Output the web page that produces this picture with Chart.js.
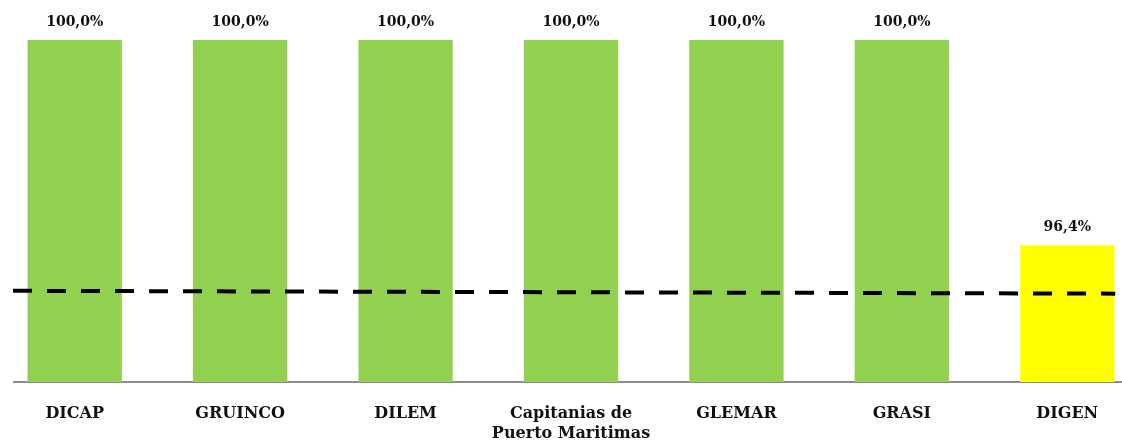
<!DOCTYPE html>
<html>
<head>
<meta charset="utf-8">
<script src="https://cdn.jsdelivr.net/npm/chart.js@4/dist/chart.umd.min.js"></script>
<style>
  html, body { margin: 0; padding: 0; background: #fff; overflow: hidden; }
  #wrap { position: absolute; left: -8px; top: 0; width: 1158px; height: 466px; }
</style>
</head>
<body>
<div id="wrap"><canvas id="myChart"></canvas></div>
<script>
const labels = [
  "DICAP",
  "GRUINCO",
  "DILEM",
  ["Capitanias de", "Puerto Maritimas"],
  "GLEMAR",
  "GRASI",
  "DIGEN",
];
const values = [100, 100, 100, 100, 100, 100, 96.4];
const barColors = ["#92D050", "#92D050", "#92D050", "#92D050", "#92D050", "#92D050", "#FFFF00"];
// meta line, runs a bit past first and last category
const targetLine = [
  { x: -0.373, y: 95.6 },
  { x: 6.29, y: 95.55 },
];

const serif = "'DejaVu Serif', 'Liberation Serif', serif";

const valueLabels = {
  id: "valueLabels",
  afterDatasetsDraw(chart) {
    const ctx = chart.ctx;
    const meta = chart.getDatasetMeta(0);
    ctx.save();
    ctx.font = "bold 14px " + serif;
    ctx.fillStyle = "#111";
    ctx.textAlign = "center";
    ctx.textBaseline = "bottom";
    meta.data.forEach((bar, i) => {
      const txt = values[i].toFixed(1).replace(".", ",") + "%";
      ctx.fillText(txt, bar.x, bar.y - 11);
    });
    ctx.restore();
  },
};

const axisLine = {
  id: "axisLine",
  beforeDatasetsDraw(chart) {
    const ctx = chart.ctx;
    const x0 = chart.scales.x2.getPixelForValue(targetLine[0].x);
    const y = chart.scales.y.getPixelForValue(94);
    ctx.save();
    ctx.strokeStyle = "#8c8c8c";
    ctx.lineWidth = 2;
    ctx.beginPath();
    ctx.moveTo(x0, y);
    ctx.lineTo(chart.chartArea.right, y);
    ctx.stroke();
    ctx.restore();
  },
};

const ctx = document.getElementById("myChart").getContext("2d");
new Chart(ctx, {
  type: "bar",
  data: {
    labels: labels,
    datasets: [
      {
        type: "bar",
        data: values,
        xAxisID: "x",
        backgroundColor: barColors,
        borderWidth: 0,
        grouped: false,
        categoryPercentage: 1,
        barPercentage: 0.57,
        order: 1,
      },
      {
        type: "line",
        data: targetLine,
        xAxisID: "x2",
        borderColor: "#000",
        borderWidth: 4,
        borderDash: [19, 15],
        pointRadius: 0,
        fill: false,
        order: 0,
      },
    ],
  },
  options: {
    responsive: true,
    maintainAspectRatio: false,
    animation: false,
    layout: { padding: { top: 40, bottom: 0, left: 0, right: 0 } },
    scales: {
      x: {
        type: "category",
        grid: { display: false, drawTicks: false },
        border: { display: false },
        ticks: {
          autoSkip: false,
          maxRotation: 0,
          padding: 22,
          color: "#111",
          font: { family: serif, size: 16, weight: "bold", lineHeight: 1.25 },
        },
      },
      x2: {
        type: "linear",
        display: false,
        offset: false,
        min: -0.5,
        max: 6.5,
      },
      y: {
        display: false,
        min: 94,
        max: 100,
      },
    },
    plugins: {
      legend: { display: false },
      tooltip: { enabled: false },
    },
  },
  plugins: [valueLabels, axisLine],
});
</script>
</body>
</html>
